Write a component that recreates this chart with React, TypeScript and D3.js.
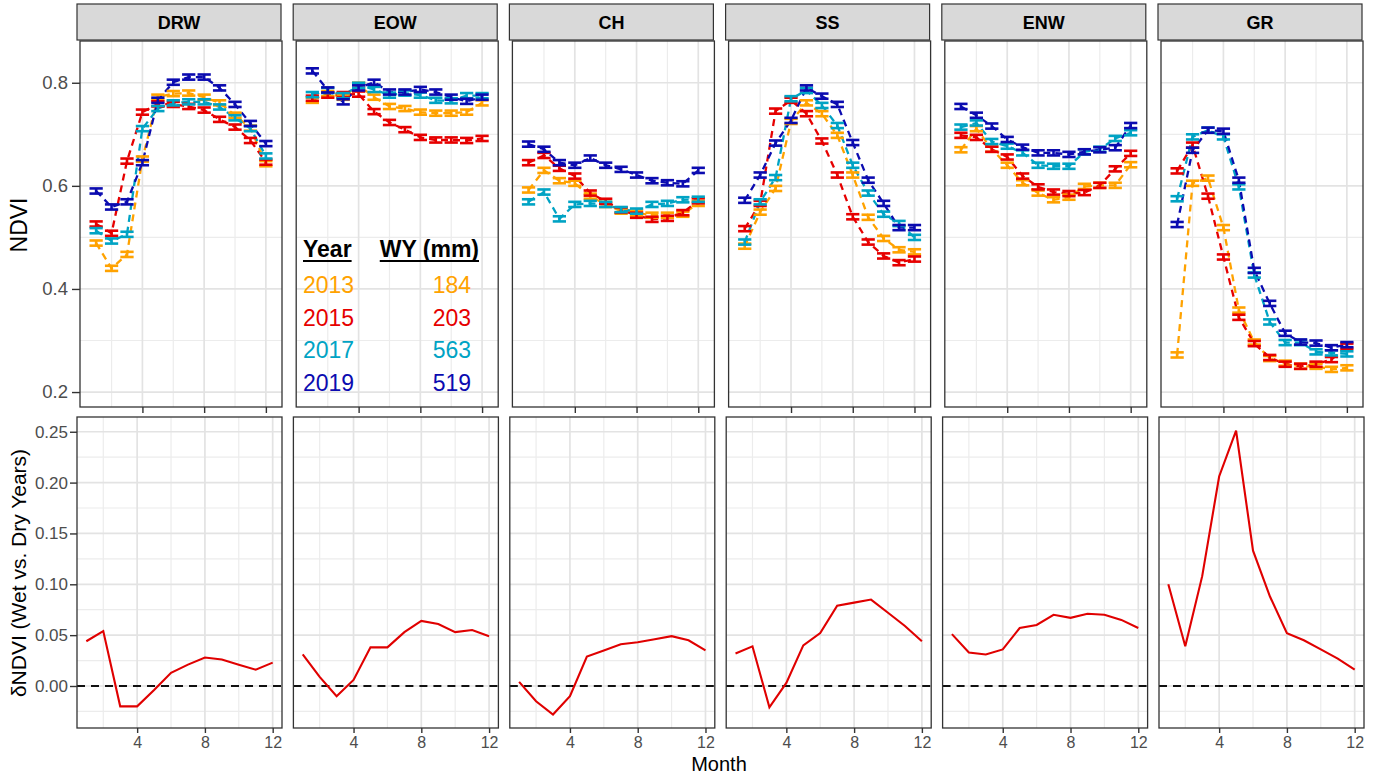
import React, { useCallback, useEffect, useRef } from "react";
import * as d3 from "d3";

// months on the x axis
const MONTHS = [1, 2, 3, 4, 5, 6, 7, 8, 9, 10, 11, 12];
const SITES = ["DRW", "EOW", "CH", "SS", "ENW", "GR"];
const YEARS = ["2013", "2015", "2017", "2019"];
const WATER_YIELD = ["184", "203", "563", "519"];

// monthly NDVI per year (2013, 2015, 2017, 2019)
const ndviDRW = [
  [0.489, 0.44, 0.467, 0.652, 0.772, 0.779, 0.78, 0.772, 0.761, 0.737, 0.712, 0.643],
  [0.526, 0.508, 0.648, 0.743, 0.759, 0.758, 0.754, 0.747, 0.729, 0.714, 0.688, 0.646],
  [0.513, 0.493, 0.506, 0.711, 0.75, 0.761, 0.763, 0.763, 0.753, 0.732, 0.711, 0.658],
  [0.59, 0.559, 0.569, 0.645, 0.766, 0.801, 0.811, 0.811, 0.79, 0.758, 0.721, 0.682],
];
const ndviEOW = [
  [0.766, 0.779, 0.772, 0.795, 0.772, 0.754, 0.75, 0.743, 0.741, 0.741, 0.743, 0.761],
  [0.77, 0.776, 0.777, 0.778, 0.744, 0.723, 0.709, 0.694, 0.689, 0.689, 0.688, 0.692],
  [0.777, 0.785, 0.775, 0.795, 0.787, 0.776, 0.78, 0.776, 0.766, 0.765, 0.775, 0.775],
  [0.823, 0.786, 0.763, 0.79, 0.801, 0.782, 0.782, 0.787, 0.782, 0.772, 0.764, 0.772],
];
const ndviCH = [
  [0.592, 0.63, 0.61, 0.605, 0.58, 0.564, 0.551, 0.547, 0.543, 0.543, 0.545, 0.566],
  [0.645, 0.659, 0.634, 0.619, 0.586, 0.57, 0.553, 0.543, 0.535, 0.537, 0.548, 0.571],
  [0.569, 0.588, 0.536, 0.564, 0.566, 0.564, 0.554, 0.551, 0.564, 0.566, 0.573, 0.574],
  [0.681, 0.671, 0.645, 0.64, 0.654, 0.64, 0.632, 0.621, 0.61, 0.606, 0.604, 0.63],
];
const ndviSS = [
  [0.483, 0.549, 0.595, 0.725, 0.761, 0.74, 0.698, 0.621, 0.539, 0.498, 0.476, 0.472],
  [0.517, 0.566, 0.745, 0.766, 0.74, 0.687, 0.621, 0.54, 0.491, 0.464, 0.451, 0.458],
  [0.491, 0.569, 0.616, 0.769, 0.785, 0.756, 0.717, 0.64, 0.586, 0.545, 0.527, 0.5],
  [0.572, 0.621, 0.683, 0.727, 0.79, 0.774, 0.758, 0.684, 0.611, 0.566, 0.519, 0.519],
];
const ndviENW = [
  [0.67, 0.711, 0.671, 0.64, 0.606, 0.586, 0.573, 0.578, 0.599, 0.601, 0.601, 0.641],
  [0.698, 0.694, 0.671, 0.656, 0.619, 0.598, 0.588, 0.585, 0.587, 0.601, 0.633, 0.663],
  [0.714, 0.722, 0.686, 0.677, 0.664, 0.64, 0.638, 0.638, 0.666, 0.671, 0.692, 0.703],
  [0.754, 0.737, 0.716, 0.69, 0.675, 0.664, 0.664, 0.661, 0.666, 0.67, 0.674, 0.717],
];
const ndviGR = [
  [0.272, 0.605, 0.615, 0.519, 0.359, 0.297, 0.265, 0.256, 0.25, 0.25, 0.244, 0.247],
  [0.629, 0.679, 0.58, 0.462, 0.345, 0.294, 0.267, 0.254, 0.25, 0.254, 0.263, 0.289],
  [0.575, 0.695, 0.708, 0.695, 0.598, 0.427, 0.336, 0.296, 0.296, 0.278, 0.276, 0.274],
  [0.525, 0.669, 0.708, 0.706, 0.611, 0.436, 0.372, 0.314, 0.297, 0.295, 0.286, 0.292],
];

// monthly delta NDVI (wet vs. dry years)
const deltaDRW = [0.044, 0.054, -0.02, -0.02, -0.004, 0.013, 0.021, 0.028, 0.026, 0.021, 0.016, 0.023];
const deltaEOW = [0.031, 0.009, -0.01, 0.006, 0.038, 0.038, 0.053, 0.064, 0.061, 0.053, 0.055, 0.049];
const deltaCH = [0.004, -0.015, -0.028, -0.01, 0.029, 0.035, 0.041, 0.043, 0.046, 0.049, 0.045, 0.035];
const deltaSS = [0.032, 0.039, -0.021, 0.003, 0.04, 0.052, 0.079, 0.082, 0.085, 0.072, 0.059, 0.044];
const deltaENW = [0.051, 0.033, 0.031, 0.036, 0.057, 0.06, 0.07, 0.067, 0.071, 0.07, 0.065, 0.057];
const deltaGR = [0.1, 0.039, 0.108, 0.206, 0.251, 0.133, 0.088, 0.052, 0.045, 0.036, 0.027, 0.016];

const NDVI_BY_SITE = [ndviDRW, ndviEOW, ndviCH, ndviSS, ndviENW, ndviGR];
const DELTA_BY_SITE = [deltaDRW, deltaEOW, deltaCH, deltaSS, deltaENW, deltaGR];

const TOP_Y_TICKS = [0.2, 0.4, 0.6, 0.8];
const TOP_Y_MINOR = [0.3, 0.5, 0.7];
const BOTTOM_Y_TICKS = [0, 0.05, 0.1, 0.15, 0.2, 0.25];
const BOTTOM_Y_MINOR = [-0.025, 0.025, 0.075, 0.125, 0.175, 0.225];
const X_TICKS = [4, 8, 12];
const X_MINOR = [2, 6, 10];

const YEAR_COLORS = ["#ffa200", "#e60000", "#00a3c4", "#0b0bb0"];
const FONT = "'Liberation Sans', Arial, sans-serif";
const SE = 0.005;

export default function App() {
  const svgRef = useRef<SVGSVGElement>(null);

  const renderChart = useCallback(() => {
    document.body.style.margin = "0";
    const svg = d3.select(svgRef.current);
    svg.selectChildren().remove();

    const grid = (
      g: d3.Selection<SVGGElement, unknown, null, undefined>,
      x: d3.ScaleLinear<number, number>,
      y: d3.ScaleLinear<number, number>,
      yMajor: number[],
      yMinor: number[]
    ) => {
      const [x0, x1] = x.range();
      const [y1, y0] = y.range();
      g.append("rect")
        .attr("x", x0)
        .attr("y", y0)
        .attr("width", x1 - x0)
        .attr("height", y1 - y0)
        .attr("fill", "white");
      const lines = (vals: number[], vertical: boolean, w: number, c: string) =>
        g
          .append("g")
          .selectAll("line")
          .data(vals)
          .enter()
          .append("line")
          .attr("x1", (d) => (vertical ? x(d) : x0))
          .attr("x2", (d) => (vertical ? x(d) : x1))
          .attr("y1", (d) => (vertical ? y0 : y(d)))
          .attr("y2", (d) => (vertical ? y1 : y(d)))
          .attr("stroke", c)
          .attr("stroke-width", w);
      lines(X_MINOR, true, 1.2, "#ececec");
      lines(yMinor, false, 1.2, "#ececec");
      lines(X_TICKS, true, 1.7, "#e3e3e3");
      lines(yMajor, false, 1.7, "#e3e3e3");
    };

    const border = (
      g: d3.Selection<SVGGElement, unknown, null, undefined>,
      x: d3.ScaleLinear<number, number>,
      y: d3.ScaleLinear<number, number>
    ) => {
      const [x0, x1] = x.range();
      const [y1, y0] = y.range();
      g.append("rect")
        .attr("x", x0)
        .attr("y", y0)
        .attr("width", x1 - x0)
        .attr("height", y1 - y0)
        .attr("fill", "none")
        .attr("stroke", "#333333")
        .attr("stroke-width", 1.3);
    };

    const styleAxis = (a: d3.Selection<SVGGElement, unknown, null, undefined>, size: number) => {
      a.select(".domain").remove();
      a.selectAll("line").attr("stroke", "#333333").attr("stroke-width", 1.4);
      a.selectAll("text").attr("fill", "#4d4d4d").style("font-size", size + "px").style("font-family", FONT);
    };

    SITES.forEach((site, i) => {
      // ---------- top row: NDVI by year ----------
      const left = 80 + 216.2 * i;
      const x = d3.scaleLinear().domain([-0.045, 13.045]).range([left, left + 202]);
      const y = d3.scaleLinear().domain([0.171, 0.881]).range([407, 41]);

      svg
        .append("rect")
        .attr("x", left - 3)
        .attr("y", 4)
        .attr("width", 204)
        .attr("height", 36)
        .attr("fill", "#d9d9d9")
        .attr("stroke", "#333333")
        .attr("stroke-width", 1.2);
      svg
        .append("text")
        .attr("x", left + 99)
        .attr("y", 29)
        .attr("text-anchor", "middle")
        .style("font-family", FONT)
        .style("font-weight", "bold")
        .style("font-size", "18px")
        .text(site);

      const top = svg.append("g");
      grid(top, x, y, TOP_Y_TICKS, TOP_Y_MINOR);

      NDVI_BY_SITE[i].forEach((vals, k) => {
        const pts: Array<[number, number]> = vals.map((v, j) => [x(MONTHS[j]), y(v)]);
        top
          .append("path")
          .attr("d", d3.line()(pts))
          .attr("fill", "none")
          .attr("stroke", YEAR_COLORS[k])
          .attr("stroke-width", 2.3)
          .attr("stroke-dasharray", "7,5");
      });
      NDVI_BY_SITE[i].forEach((vals, k) => {
        const bars = top
          .append("g")
          .attr("stroke", YEAR_COLORS[k])
          .attr("stroke-width", 2.6)
          .selectAll("g")
          .data(vals.map((v, j) => ({ m: MONTHS[j], v })))
          .enter()
          .append("g");
        [SE, -SE].forEach((s) => {
          bars
            .append("line")
            .attr("x1", (d) => x(d.m - 0.43))
            .attr("x2", (d) => x(d.m + 0.43))
            .attr("y1", (d) => y(d.v + s))
            .attr("y2", (d) => y(d.v + s));
        });
        bars
          .append("line")
          .attr("x1", (d) => x(d.m))
          .attr("x2", (d) => x(d.m))
          .attr("y1", (d) => y(d.v - SE))
          .attr("y2", (d) => y(d.v + SE));
      });
      border(top, x, y);

      const tx = top
        .append("g")
        .attr("transform", "translate(0,407)")
        .call(d3.axisBottom(x).tickValues(X_TICKS).tickSize(6).tickFormat(() => ""));
      styleAxis(tx, 15);

      if (i === 0) {
        const ty = top
          .append("g")
          .attr("transform", `translate(${left},0)`)
          .call(d3.axisLeft(y).tickValues(TOP_Y_TICKS).tickSize(8).tickPadding(4).tickFormat(d3.format(".1f")));
        styleAxis(ty, 18.5);
      }

      // ---------- bottom row: delta NDVI ----------
      const bl = 77 + 216.4 * i;
      const bx = d3.scaleLinear().domain([0.45, 12.55]).range([bl, bl + 205]);
      const by = d3.scaleLinear().domain([-0.0413, 0.2645]).range([728, 417]);
      const bottom = svg.append("g");
      grid(bottom, bx, by, BOTTOM_Y_TICKS, BOTTOM_Y_MINOR);

      bottom
        .append("line")
        .attr("x1", bl)
        .attr("x2", bl + 205)
        .attr("y1", by(0))
        .attr("y2", by(0))
        .attr("stroke", "#111111")
        .attr("stroke-width", 1.8)
        .attr("stroke-dasharray", "8,6");

      const dpts: Array<[number, number]> = DELTA_BY_SITE[i].map((v, j) => [bx(MONTHS[j]), by(v)]);
      bottom
        .append("path")
        .attr("d", d3.line()(dpts))
        .attr("fill", "none")
        .attr("stroke", "#e00000")
        .attr("stroke-width", 2.1);
      border(bottom, bx, by);

      const bxa = bottom
        .append("g")
        .attr("transform", "translate(0,728)")
        .call(d3.axisBottom(bx).tickValues(X_TICKS).tickSize(5).tickPadding(4).tickFormat(d3.format("d")));
      styleAxis(bxa, 16);

      if (i === 0) {
        const bya = bottom
          .append("g")
          .attr("transform", `translate(${bl},0)`)
          .call(d3.axisLeft(by).tickValues(BOTTOM_Y_TICKS).tickSize(7).tickPadding(2).tickFormat(d3.format(".2f")));
        styleAxis(bya, 17);
      }
    });

    // ---------- legend inside the EOW panel ----------
    const lg = svg.append("g").style("font-family", FONT).style("font-size", "23px");
    const headers: Array<[string, number, string]> = [
      ["Year", 303, "start"],
      ["WY (mm)", 479, "end"],
    ];
    headers.forEach(([label, hx, anchor]) => {
      const t = lg
        .append("text")
        .attr("x", hx)
        .attr("y", 257)
        .attr("text-anchor", anchor)
        .style("font-weight", "bold")
        .attr("fill", "#000")
        .text(label);
      const len = (t.node() as SVGTextElement).getComputedTextLength();
      const x0 = anchor === "start" ? hx : hx - len;
      lg.append("line")
        .attr("x1", x0)
        .attr("x2", x0 + len)
        .attr("y1", 261)
        .attr("y2", 261)
        .attr("stroke", "#000")
        .attr("stroke-width", 2);
    });
    YEARS.forEach((yr, k) => {
      const yy = 293 + k * 32.6;
      lg.append("text").attr("x", 303).attr("y", yy).attr("fill", YEAR_COLORS[k]).text(yr);
      lg.append("text")
        .attr("x", 471)
        .attr("y", yy)
        .attr("text-anchor", "end")
        .attr("fill", YEAR_COLORS[k])
        .text(WATER_YIELD[k]);
    });

    // ---------- axis titles ----------
    svg
      .append("text")
      .attr("transform", "translate(27,225) rotate(-90)")
      .attr("text-anchor", "middle")
      .style("font-family", FONT)
      .style("font-size", "23px")
      .text("NDVI");
    svg
      .append("text")
      .attr("transform", "translate(26,573) rotate(-90)")
      .attr("text-anchor", "middle")
      .style("font-family", FONT)
      .style("font-size", "21px")
      .text("δNDVI (Wet vs. Dry Years)");
    svg
      .append("text")
      .attr("x", 719)
      .attr("y", 771)
      .attr("text-anchor", "middle")
      .style("font-family", FONT)
      .style("font-size", "20px")
      .text("Month");
  }, []);

  useEffect(() => {
    renderChart();
  }, [renderChart]);

  return (
    <svg
      ref={svgRef}
      width={1379}
      height={775}
      style={{ display: "block", background: "white" }}
    ></svg>
  );
}
